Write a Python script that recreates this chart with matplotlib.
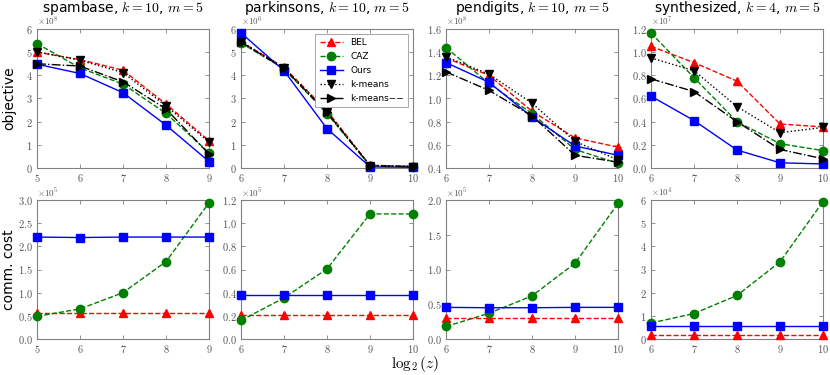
"""Objective and communication cost vs log2(z) for four datasets (2 x 4 grid)."""
import matplotlib
matplotlib.use('Agg')
import matplotlib.pyplot as plt
import numpy as np

plt.rcParams['font.family'] = 'cmr10'
plt.rcParams['mathtext.fontset'] = 'cm'
plt.rcParams['axes.formatter.use_mathtext'] = True
plt.rcParams['axes.formatter.limits'] = (-3, 3)
SANS = 'DejaVu Sans'

# ---- data -------------------------------------------------------------
titles = [r'spambase, $k=10$, $m=5$', r'parkinsons, $k=10$, $m=5$',
          r'pendigits, $k=10$, $m=5$', r'synthesized, $k=4$, $m=5$']
x_spam = [5, 6, 7, 8, 9]
x_rest = [6, 7, 8, 9, 10]

# objective
spam_bel = [5.00e8, 4.68e8, 4.22e8, 2.76e8, 1.18e8]
spam_caz = [5.37e8, 4.32e8, 3.62e8, 2.36e8, 0.66e8]
spam_ours = [4.48e8, 4.08e8, 3.25e8, 1.85e8, 0.28e8]
spam_km = [5.02e8, 4.65e8, 4.12e8, 2.68e8, 1.12e8]
spam_kmm = [4.50e8, 4.40e8, 3.72e8, 2.55e8, 0.60e8]

park_bel = [5.45e6, 4.35e6, 2.47e6, 0.12e6, 0.07e6]
park_caz = [5.40e6, 4.28e6, 2.35e6, 0.10e6, 0.06e6]
park_ours = [5.83e6, 4.20e6, 1.70e6, 0.05e6, 0.03e6]
park_km = [5.45e6, 4.32e6, 2.42e6, 0.10e6, 0.06e6]
park_kmm = [5.43e6, 4.30e6, 2.40e6, 0.10e6, 0.06e6]

pend_bel = [1.35e8, 1.20e8, 0.89e8, 0.66e8, 0.58e8]
pend_caz = [1.44e8, 1.13e8, 0.87e8, 0.56e8, 0.44e8]
pend_ours = [1.31e8, 1.14e8, 0.84e8, 0.59e8, 0.51e8]
pend_km = [1.36e8, 1.21e8, 0.96e8, 0.63e8, 0.47e8]
pend_kmm = [1.23e8, 1.07e8, 0.85e8, 0.51e8, 0.45e8]

syn_bel = [1.05e7, 0.91e7, 0.75e7, 0.38e7, 0.355e7]
syn_caz = [1.165e7, 0.78e7, 0.40e7, 0.21e7, 0.15e7]
syn_ours = [0.62e7, 0.41e7, 0.155e7, 0.045e7, 0.035e7]
syn_km = [0.95e7, 0.84e7, 0.53e7, 0.305e7, 0.35e7]
syn_kmm = [0.77e7, 0.66e7, 0.40e7, 0.16e7, 0.08e7]

# communication cost
spam_bel_c = [0.57e5, 0.57e5, 0.57e5, 0.57e5, 0.57e5]
spam_caz_c = [0.49e5, 0.65e5, 1.00e5, 1.67e5, 2.94e5]
spam_ours_c = [2.20e5, 2.19e5, 2.20e5, 2.20e5, 2.20e5]

park_bel_c = [0.21e5, 0.21e5, 0.21e5, 0.21e5, 0.21e5]
park_caz_c = [0.16e5, 0.355e5, 0.605e5, 1.08e5, 1.08e5]
park_ours_c = [0.383e5, 0.383e5, 0.383e5, 0.383e5, 0.383e5]

pend_bel_c = [0.306e5, 0.306e5, 0.306e5, 0.306e5, 0.306e5]
pend_caz_c = [0.18e5, 0.37e5, 0.62e5, 1.09e5, 1.95e5]
pend_ours_c = [0.455e5, 0.45e5, 0.45e5, 0.455e5, 0.455e5]

syn_bel_c = [0.16e4, 0.16e4, 0.16e4, 0.16e4, 0.16e4]
syn_caz_c = [0.69e4, 1.10e4, 1.88e4, 3.33e4, 5.93e4]
syn_ours_c = [0.57e4, 0.57e4, 0.57e4, 0.57e4, 0.57e4]

# ---- styles -----------------------------------------------------------
STYLE = {
    'BEL': dict(color='r', ls='--', marker='^'),
    'CAZ': dict(color='g', ls='--', marker='o'),
    'Ours': dict(color='b', ls='-', marker='s'),
    'k-means': dict(color='k', ls=':', marker='v'),
    'k-means\u2212\u2212': dict(color='k', ls='-.', marker='>'),
}

top = [
    (x_spam, [spam_bel, spam_caz, spam_ours, spam_km, spam_kmm], (0, 6e8), np.arange(0, 6.01, 1) * 1e8),
    (x_rest, [park_bel, park_caz, park_ours, park_km, park_kmm], (0, 6e6), np.arange(0, 6.01, 1) * 1e6),
    (x_rest, [pend_bel, pend_caz, pend_ours, pend_km, pend_kmm], (0.4e8, 1.6e8), np.arange(0.4, 1.61, 0.2) * 1e8),
    (x_rest, [syn_bel, syn_caz, syn_ours, syn_km, syn_kmm], (0, 1.2e7), np.arange(0, 1.21, 0.2) * 1e7),
]
bottom = [
    (x_spam, [spam_bel_c, spam_caz_c, spam_ours_c], (0, 3e5), np.arange(0, 3.01, 0.5) * 1e5),
    (x_rest, [park_bel_c, park_caz_c, park_ours_c], (0, 1.2e5), np.arange(0, 1.21, 0.2) * 1e5),
    (x_rest, [pend_bel_c, pend_caz_c, pend_ours_c], (0, 2e5), np.arange(0, 2.01, 0.5) * 1e5),
    (x_rest, [syn_bel_c, syn_caz_c, syn_ours_c], (0, 6e4), np.arange(0, 6.01, 1) * 1e4),
]
names = list(STYLE.keys())

fig = plt.figure(figsize=(8.3, 3.75), dpi=100)
lefts = [37, 241, 446, 651]
W, H = 172 / 830, 139 / 375
rows = [1 - 168 / 375, 1 - 339 / 375]


def style_axes(ax, xs, ylim, yticks):
    ax.set_xlim(xs[0], xs[-1])
    ax.set_xticks(xs)
    ax.set_ylim(*ylim)
    ax.set_yticks(yticks)
    for s in ax.spines.values():
        s.set_color('#808080')
    ax.tick_params(direction='in', top=True, right=True, length=3, width=0.6,
                   colors='#808080', labelcolor='#555555', labelsize=7.5, pad=3)


all_axes = []
for r, block in enumerate([top, bottom]):
    for c, (xs, series, ylim, yticks) in enumerate(block):
        ax = fig.add_axes([lefts[c] / 830, rows[r], W, H])
        all_axes.append(ax)
        for name, ys in zip(names, series):
            st = STYLE[name]
            ax.plot(xs, ys, color=st['color'], ls=st['ls'], marker=st['marker'],
                    lw=1, ms=6, mec=st['color'], label=name, clip_on=False, zorder=3)
        style_axes(ax, xs, ylim, yticks)
        if r == 0:
            ax.set_title(titles[c], fontsize=10, family=SANS, y=1.125, pad=0)
            if c == 1:
                leg = ax.legend(loc='upper right', prop={'family': SANS, 'size': 6.5},
                                handlelength=2.6, fancybox=False, framealpha=1,
                                borderpad=0.5, labelspacing=0.55)
                leg.get_frame().set_edgecolor('#999999')
                leg.get_frame().set_linewidth(0.6)
        if c == 0:
            ax.set_ylabel('objective' if r == 0 else 'comm. cost', fontsize=10, family=SANS)
            ax.yaxis.set_label_coords(-0.12, 0.5)

fig.text(0.5, 0.028, r'$\log_2(z)$', ha='center', va='center', fontsize=11)

# place the x10^n multiplier just above each axes, tucked under the title
fig.canvas.draw()
for ax in all_axes:
    off = ax.yaxis.get_major_formatter().get_offset()
    ax.yaxis.get_offset_text().set_visible(False)
    ax.text(0.0, 1.005, off, transform=ax.transAxes, ha='left', va='bottom',
            fontsize=6.5, color='#555555')

fig.savefig('out.png', dpi=100)
